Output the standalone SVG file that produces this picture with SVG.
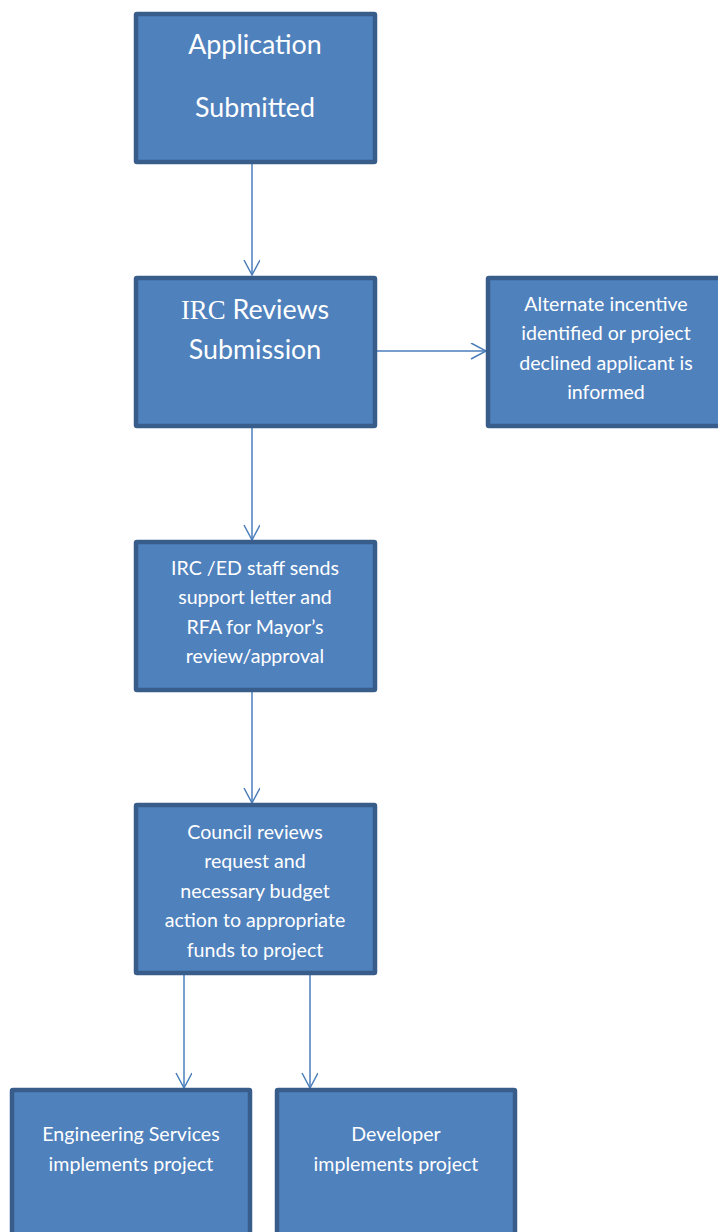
<svg xmlns="http://www.w3.org/2000/svg" width="718" height="1232" viewBox="0 0 718 1232">
<style>
.box{fill:#4f81bd;stroke:#385d8a;stroke-width:4.5}
.t{fill:#ffffff;font-family:Lato,"Liberation Sans",sans-serif;text-anchor:middle}
.big{font-size:26.8px}
.sm{font-size:19.6px}
.serif{font-family:"Liberation Serif",serif}
.c{stroke:#4a7ebb;stroke-width:1.5;fill:none}
</style>
<defs>
<marker id="ah" markerWidth="20" markerHeight="20" refX="16" refY="8" orient="auto" markerUnits="userSpaceOnUse">
<path d="M1,0 L16,8 L1,16" fill="none" stroke="#4a7ebb" stroke-width="1.5"/>
</marker>
</defs>
<g id="connectors">
<line class="c" x1="252" y1="164" x2="252" y2="275" marker-end="url(#ah)"/>
<line class="c" x1="376" y1="351" x2="486" y2="351" marker-end="url(#ah)"/>
<line class="c" x1="252" y1="428" x2="252" y2="540" marker-end="url(#ah)"/>
<line class="c" x1="252" y1="692" x2="252" y2="803" marker-end="url(#ah)"/>
<line class="c" x1="184" y1="975" x2="184" y2="1088" marker-end="url(#ah)"/>
<line class="c" x1="310" y1="975" x2="310" y2="1088" marker-end="url(#ah)"/>
</g>
<g id="n1">
<rect class="box" x="136" y="14" width="239" height="148" rx="1"/>
<text class="t big" x="255" y="54">Application</text>
<text class="t big" x="255" y="117">Submitted</text>
</g>
<g id="n2">
<rect class="box" x="136" y="278" width="239" height="148" rx="1"/>
<text class="t big" x="255" y="319"><tspan class="serif">IRC</tspan> Reviews</text>
<text class="t big" x="255" y="359">Submission</text>
</g>
<g id="n3">
<rect class="box" x="488" y="278" width="239" height="148" rx="1"/>
<text class="t sm" x="606" y="311">Alternate incentive</text>
<text class="t sm" x="606" y="340">identified or project</text>
<text class="t sm" x="606" y="370">declined applicant is</text>
<text class="t sm" x="606" y="399">informed</text>
</g>
<g id="n4">
<rect class="box" x="136" y="542" width="239" height="148" rx="1"/>
<text class="t sm" x="255" y="575">IRC /ED staff sends</text>
<text class="t sm" x="255" y="604">support letter and</text>
<text class="t sm" x="255" y="634">RFA for Mayor’s</text>
<text class="t sm" x="255" y="663">review/approval</text>
</g>
<g id="n5">
<rect class="box" x="136" y="805" width="239" height="168" rx="1"/>
<text class="t sm" x="255" y="839">Council reviews</text>
<text class="t sm" x="255" y="868">request and</text>
<text class="t sm" x="255" y="898">necessary budget</text>
<text class="t sm" x="255" y="927">action to appropriate</text>
<text class="t sm" x="255" y="957">funds to project</text>
</g>
<g id="n6">
<rect class="box" x="12" y="1090" width="238" height="160" rx="1"/>
<text class="t sm" x="131" y="1141">Engineering Services</text>
<text class="t sm" x="131" y="1171">implements project</text>
</g>
<g id="n7">
<rect class="box" x="277" y="1090" width="238" height="160" rx="1"/>
<text class="t sm" x="396" y="1141">Developer</text>
<text class="t sm" x="396" y="1171">implements project</text>
</g>
</svg>
